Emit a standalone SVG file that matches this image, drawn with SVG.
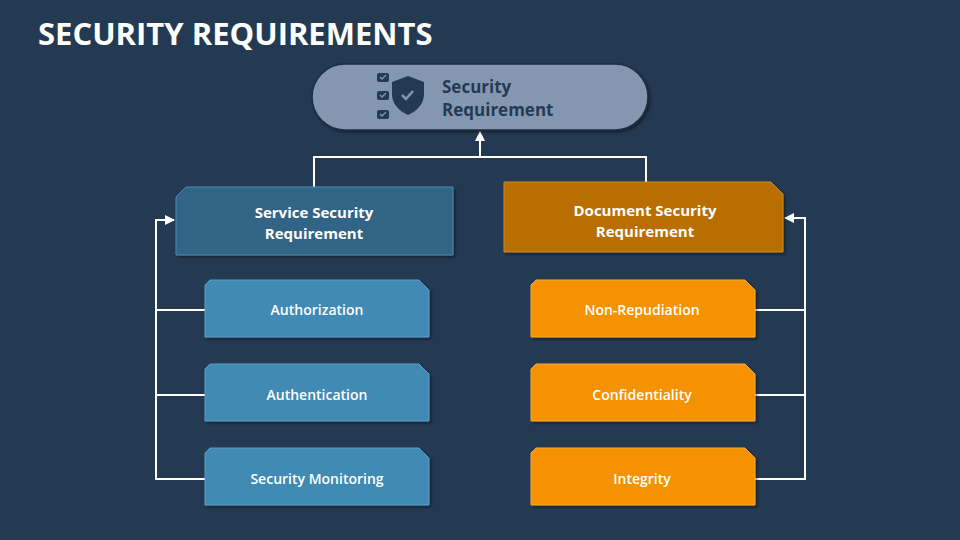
<svg xmlns="http://www.w3.org/2000/svg" width="960" height="540" viewBox="0 0 960 540">
<style>
text{font-family:"Open Sans","Liberation Sans",sans-serif;font-weight:bold;text-anchor:middle}
.w{fill:#fff;font-size:15px}
.c{fill:none;stroke:#fff;stroke-width:2}
.bl{fill:#418ab3;stroke:#5d9ec4;stroke-width:1}
.or{fill:#f59200;stroke:#f7a83a;stroke-width:1}
</style>
<defs>
<marker id="ah" viewBox="0 0 10 10" refX="9" refY="5" markerWidth="5" markerHeight="5" orient="auto"><path d="M0,0L10,5L0,10z" fill="#fff"/></marker>
<filter id="sh"><feDropShadow dx="2" dy="2" stdDeviation="1.5" flood-color="#000" flood-opacity="0.4"/></filter>
</defs>
<rect width="960" height="540" fill="#243a53"/>
<text x="38" y="45" style="text-anchor:start;font-size:31px;fill:#fff">SECURITY REQUIREMENTS</text>
<g id="connectors">
<path class="c" d="M314,187V157H646V183" />
<path class="c" d="M480,157V132" marker-end="url(#ah)"/>
<path class="c" d="M156,310H205M156,395H205M205,479H156V220H174" marker-end="url(#ah)"/>
<path class="c" d="M805,310H755M805,395H755M755,479H805V218H785" marker-end="url(#ah)"/>
</g>
<g id="top">
<rect x="312" y="64" width="336" height="66" rx="33" fill="#8497b0" stroke="#1c2e42" stroke-width="1.5" filter="url(#sh)"/>
<g fill="#243a53">
<rect x="377" y="73" width="12" height="9" rx="2"/><rect x="377" y="91" width="12" height="9" rx="2"/><rect x="377" y="110" width="12" height="9" rx="2"/>
<path d="M408,76L424,82V94C424,104 417,111 408,115C399,111 392,104 392,94V82Z"/>
</g>
<path d="M380,77l2,2l4,-4M380,95l2,2l4,-4M380,114l2,2l4,-4" stroke="#8497b0" stroke-width="1.3" fill="none"/>
<path d="M402,95l4,4l7,-8" stroke="#8497b0" stroke-width="2.5" fill="none"/>
<text x="442" y="93" style="text-anchor:start;font-size:17px;fill:#243a53">Security</text>
<text x="442" y="116" style="text-anchor:start;font-size:17px;fill:#243a53">Requirement</text>
</g>
<g id="service">
<path d="M186,187H453V255H176V197Z" fill="#306585" stroke="#4a8ab0" stroke-width="1" filter="url(#sh)"/>
<text class="w" x="314" y="218">Service Security</text><text class="w" x="314" y="239">Requirement</text>
</g>
<g id="document">
<path d="M504,182H771L783,194V252H504Z" fill="#b86e00" stroke="#d08818" stroke-width="1" filter="url(#sh)"/>
<text class="w" x="645" y="216">Document Security</text><text class="w" x="645" y="237">Requirement</text>
</g>
<g id="authz"><path class="bl" d="M210,280H419L429,290V337H205V285Z" filter="url(#sh)"/><text class="w" x="317" y="315" style="font-size:14px;font-weight:600">Authorization</text></g>
<g id="authn"><path class="bl" d="M210,364H419L429,374V421H205V369Z" filter="url(#sh)"/><text class="w" x="317" y="400" style="font-size:14px;font-weight:600">Authentication</text></g>
<g id="monitor"><path class="bl" d="M210,448H419L429,458V505H205V453Z" filter="url(#sh)"/><text class="w" x="317" y="484" style="font-size:14px;font-weight:600">Security Monitoring</text></g>
<g id="nonrep"><path class="or" d="M536,280H745L755,290V337H531V285Z" filter="url(#sh)"/><text class="w" x="642" y="315" style="font-size:14px;font-weight:600">Non-Repudiation</text></g>
<g id="conf"><path class="or" d="M536,364H745L755,374V421H531V369Z" filter="url(#sh)"/><text class="w" x="642" y="400" style="font-size:14px;font-weight:600">Confidentiality</text></g>
<g id="integ"><path class="or" d="M536,448H745L755,458V505H531V453Z" filter="url(#sh)"/><text class="w" x="642" y="484" style="font-size:14px;font-weight:600">Integrity</text></g>
</svg>
